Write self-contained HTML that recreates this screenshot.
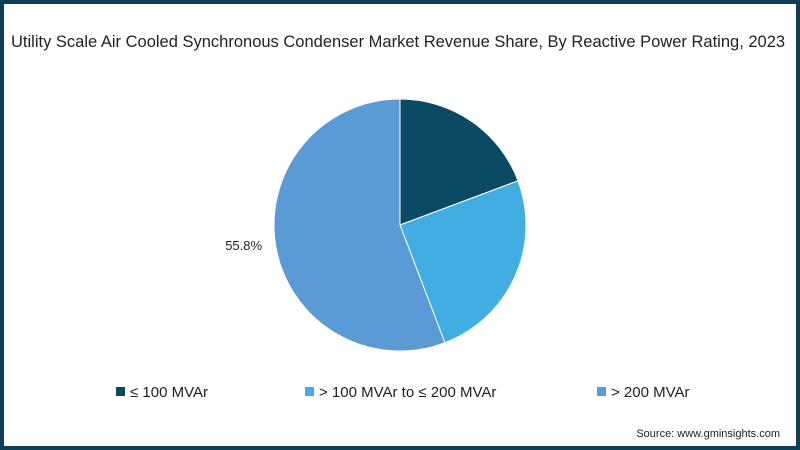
<!DOCTYPE html>
<html><head><meta charset="utf-8"><style>
body{margin:0;width:800px;height:450px;overflow:hidden;background:#fff;font-family:"Liberation Sans",sans-serif}
#frame{position:absolute;left:0;top:0;width:792px;height:442px;border:4px solid #0f3e57;background:#fff}
</style></head><body>
<div id="frame"></div>
<svg width="800" height="450" style="position:absolute;left:0;top:0">
<text x="11" y="47" font-size="16.5" fill="#222">Utility Scale Air Cooled Synchronous Condenser Market Revenue Share, By Reactive Power Rating, 2023</text>
<g id="pie"></g>
<g id="legend"></g>
<text x="780" y="437" font-size="11" fill="#222" text-anchor="end">Source: www.gminsights.com</text>
</svg>
<script>
const categories=["≤ 100 MVAr","> 100 MVAr to ≤ 200 MVAr","> 200 MVAr"];
const values=[19.3,24.9,55.8];
const labels=["","","55.8%"];
const colors=["#0b4a63","#41ade0","#5b9bd5"];
const NS="http://www.w3.org/2000/svg";
const cx=400,cy=225,r=126;
const total=values.reduce((a,b)=>a+b,0);
const pie=document.getElementById('pie');
let a0=0;
function pt(a,rr){return [cx+rr*Math.sin(a),cy-rr*Math.cos(a)];}
values.forEach((v,i)=>{
  const a1=a0+v/total*2*Math.PI;
  const p0=pt(a0,r),p1=pt(a1,r);
  const p=document.createElementNS(NS,'path');
  p.setAttribute('d',`M${cx},${cy}L${p0[0]},${p0[1]}A${r},${r} 0 ${a1-a0>Math.PI?1:0} 1 ${p1[0]},${p1[1]}Z`);
  p.setAttribute('fill',colors[i]);
  p.setAttribute('stroke','#fff');p.setAttribute('stroke-width','1');
  
  
  pie.appendChild(p);
  if(labels[i]){
    const m=(a0+a1)/2;const lp=pt(m,r+33);
    const t=document.createElementNS(NS,'text');
    t.setAttribute('x',lp[0]);t.setAttribute('y',lp[1]-4);
    t.setAttribute('text-anchor','middle');t.setAttribute('font-size','13');t.setAttribute('fill','#222');
    t.textContent=labels[i];
    
    
    pie.appendChild(t);
  }
  a0=a1;
});
const lx=[116,305,597];
const lg=document.getElementById('legend');
categories.forEach((c,i)=>{
  const rc=document.createElementNS(NS,'rect');
  rc.setAttribute('x',lx[i]);rc.setAttribute('y',387);rc.setAttribute('width',9);rc.setAttribute('height',9);
  rc.setAttribute('fill',colors[i]);
  
  
  lg.appendChild(rc);
  const t=document.createElementNS(NS,'text');
  t.setAttribute('x',lx[i]+14);t.setAttribute('y',397);t.setAttribute('font-size','15');t.setAttribute('fill','#222');
  t.textContent=c;
  
  
  lg.appendChild(t);
});
</script>
</body></html>
